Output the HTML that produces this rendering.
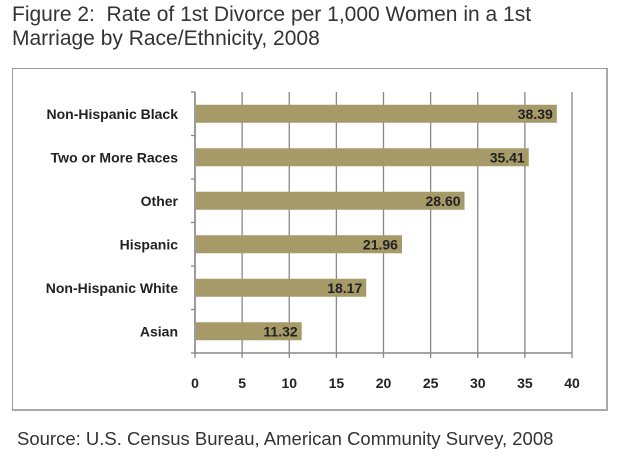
<!DOCTYPE html>
<html><head><style>
body{margin:0;background:#fff;width:620px;height:476px;overflow:hidden;font-family:"Liberation Sans",sans-serif}
</style></head><body>
<div style="position:absolute;left:12px;top:3px;font-size:21px;line-height:24px;color:#333">Figure 2:&nbsp; Rate of 1st Divorce per 1,000 Women in a 1st<br>Marriage by Race/Ethnicity, 2008</div>
<div style="position:absolute;left:12px;top:68px;width:593px;height:340px;border:1px solid #999;border-bottom:2px solid #aaa;border-right:2px solid #aaa"></div>
<svg id="c" width="620" height="476" style="position:absolute;left:0;top:0"></svg>
<div style="position:absolute;left:17px;top:428px;font-size:18.5px;color:#333">Source: U.S. Census Bureau, American Community Survey, 2008</div>
<script>
const categories=["Non-Hispanic Black","Two or More Races","Other","Hispanic","Non-Hispanic White","Asian"];
const values=[38.39,35.41,28.60,21.96,18.17,11.32];
const valueLabels=["38.39","35.41","28.60","21.96","18.17","11.32"];
const ticks=[0,5,10,15,20,25,30,35,40];
const svg=document.getElementById('c');const NS='http://www.w3.org/2000/svg';
const x0=195,x1=572,plotTop=92,plotBottom=353,band=(plotBottom-plotTop)/categories.length;
const X=v=>x0+(v/40)*(x1-x0);
function mk(t,a){const e=document.createElementNS(NS,t);for(const k in a)e.setAttribute(k,a[k]);svg.appendChild(e);return e;}
ticks.forEach(t=>{
 const g=mk('line',{x1:X(t),x2:X(t),y1:plotTop,y2:plotBottom+5,stroke:'#888','stroke-width':1.3});
 
 
 const l=mk('text',{x:X(t),y:388,'text-anchor':'middle','font-size':14,'font-weight':'bold',fill:'#222'});l.textContent=t;
 
 
});
const ax=mk('line',{x1:x0,x2:x1,y1:plotBottom,y2:plotBottom,stroke:'#888','stroke-width':1.5});


const ay=mk('line',{x1:x0,x2:x0,y1:plotTop,y2:plotBottom,stroke:'#888','stroke-width':1.5});


for(let i=0;i<=categories.length;i++){mk('line',{x1:x0-4,x2:x0,y1:plotTop+i*band,y2:plotTop+i*band,stroke:'#888','stroke-width':1.3});}
categories.forEach((c,i)=>{
 const cy=plotTop+band*(i+0.5);
 const b=mk('rect',{x:x0+1,y:cy-9,width:X(values[i])-x0-1,height:18,fill:'#a59a68'});
 
 
 const v=mk('text',{x:X(values[i])-4,y:cy+5,'text-anchor':'end','font-size':14,'font-weight':'bold',fill:'#222'});v.textContent=valueLabels[i];
 
 
 const l=mk('text',{x:178,y:cy+5,'text-anchor':'end','font-size':14,'font-weight':'bold',fill:'#222'});l.textContent=c;
 
 
});
</script>
</body></html>
